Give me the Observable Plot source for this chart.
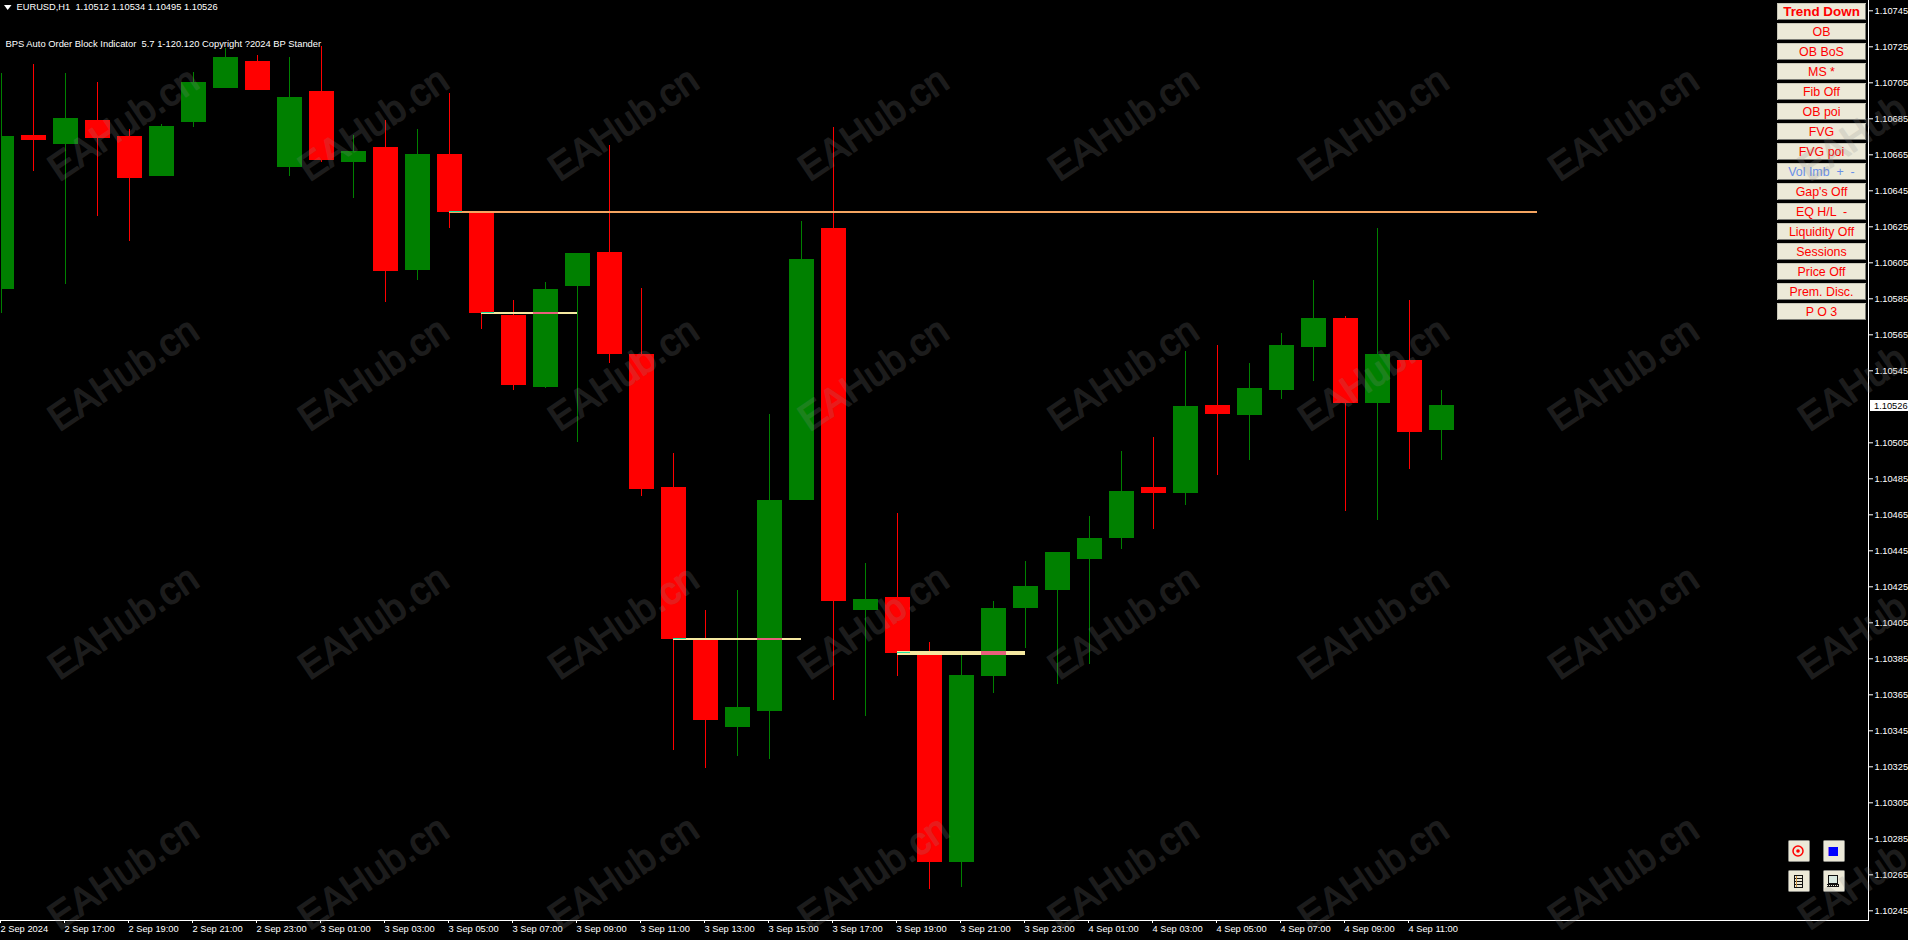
<!DOCTYPE html>
<html>
<head>
<meta charset="utf-8">
<title>EURUSD,H1</title>
<script src="https://cdn.jsdelivr.net/npm/d3@7"></script>
<script src="https://cdn.jsdelivr.net/npm/@observablehq/plot@0.6"></script>
<style>
html,body{margin:0;padding:0;background:#000;overflow:hidden}
svg text{white-space:pre}
</style>
</head>
<body>
<div id="chart"></div>
<script>
const opens = [1.10590,1.10676,1.10671,1.10684,1.10675,1.10653,1.10683,1.10702,1.10717,1.10658,1.10700,1.10661,1.10669,1.10601,1.10665,1.10633,1.10576,1.10536,1.10592,1.10611,1.10554,1.10480,1.10395,1.10347,1.10356,1.10473,1.10624,1.10412,1.10419,1.10387,1.10272,1.10375,1.10413,1.10423,1.10440,1.10452,1.10480,1.10477,1.10526,1.10520,1.10534,1.10558,1.10574,1.10527,1.10551,1.10512];
const highs = [1.10710,1.10715,1.10710,1.10705,1.10679,1.10682,1.10711,1.10724,1.10720,1.10719,1.10725,1.10676,1.10684,1.10679,1.10699,1.10633,1.10584,1.10594,1.10610,1.10670,1.10591,1.10499,1.10412,1.10423,1.10521,1.10628,1.10680,1.10438,1.10466,1.10394,1.10388,1.10417,1.10439,1.10444,1.10464,1.10500,1.10508,1.10556,1.10559,1.10549,1.10566,1.10595,1.10575,1.10624,1.10584,1.10534];
const lows = [1.10577,1.10656,1.10593,1.10631,1.10617,1.10653,1.10680,1.10702,1.10701,1.10653,1.10661,1.10641,1.10583,1.10595,1.10624,1.10568,1.10534,1.10535,1.10505,1.10549,1.10475,1.10334,1.10324,1.10331,1.10329,1.10473,1.10362,1.10353,1.10375,1.10257,1.10258,1.10366,1.10391,1.10371,1.10382,1.10446,1.10457,1.10470,1.10487,1.10495,1.10529,1.10539,1.10467,1.10462,1.10490,1.10495];
const closes = [1.10675,1.10673,1.10685,1.10674,1.10652,1.10681,1.10705,1.10719,1.10701,1.10697,1.10662,1.10667,1.10600,1.10665,1.10633,1.10577,1.10537,1.10590,1.10610,1.10554,1.10479,1.10396,1.10351,1.10358,1.10473,1.10607,1.10417,1.10418,1.10388,1.10272,1.10376,1.10413,1.10425,1.10444,1.10452,1.10478,1.10477,1.10525,1.10521,1.10535,1.10559,1.10574,1.10527,1.10554,1.10511,1.10526];

const priceTicks = [1.10745,1.10725,1.10705,1.10685,1.10665,1.10645,1.10625,1.10605,1.10585,1.10565,1.10545,1.10505,1.10485,1.10465,1.10445,1.10425,1.10405,1.10385,1.10365,1.10345,1.10325,1.10305,1.10285,1.10265,1.10245];
const timeTicks = [0,2,4,6,8,10,12,14,16,18,20,22,24,26,28,30,32,34,36,38,40,42,44];
const timeLabels = ["2 Sep 2024","2 Sep 17:00","2 Sep 19:00","2 Sep 21:00","2 Sep 23:00","3 Sep 01:00","3 Sep 03:00","3 Sep 05:00","3 Sep 07:00","3 Sep 09:00","3 Sep 11:00","3 Sep 13:00","3 Sep 15:00","3 Sep 17:00","3 Sep 19:00","3 Sep 21:00","3 Sep 23:00","4 Sep 01:00","4 Sep 03:00","4 Sep 05:00","4 Sep 07:00","4 Sep 09:00","4 Sep 11:00"];

const headerText = ["EURUSD,H1  1.10512 1.10534 1.10495 1.10526"];
const indicatorText = ["BPS Auto Order Block Indicator  5.7 1-120.120 Copyright ?2024 BP Stander"];
const currentPrice = 1.10526;

const levelPrices = [1.10633,1.10577,1.10396,1.10388];
const levelFrom = [14,15,21,28];
const levelTo = [48,18,25,32];
const levelColors = ["#f4a460","#f5e8a0","#f5e8a0","#f5e8a0"];
const levelWidths = [2,2,2,4];
const overlapBars = [null,17,24,31];

const buttonLabels = ["Trend Down","OB","OB BoS","MS *","Fib Off","OB poi","FVG","FVG poi","Vol Imb  +  -","Gap's Off","EQ H/L  -","Liquidity Off","Sessions","Price Off","Prem. Disc.","P O 3"];
const buttonColors = ["#ff0000","#ff0000","#ff0000","#ff0000","#ff0000","#ff0000","#ff0000","#ff0000","#6a8fe8","#ff0000","#ff0000","#ff0000","#ff0000","#ff0000","#ff0000","#ff0000"];

const wmBars = [3.81,11.63,19.44,27.25,35.06,42.88,50.69,58.5];
const wmPrices = [1.10682,1.10543,1.10405,1.10266];

const candles = opens.map((o,i)=>({i,open:o,high:highs[i],low:lows[i],close:closes[i]}));
const up = candles.filter(d=>d.close>=d.open);
const down = candles.filter(d=>d.close<d.open);
const levels = levelPrices.map((p,k)=>({p,from:levelFrom[k],to:levelTo[k],color:levelColors[k],w:levelWidths[k],over:overlapBars[k]}));
const halfBody = 12.5/32;
const watermarks = wmPrices.flatMap(p=>wmBars.map(b=>({p,b})));

function panel(index, scales){
  const g = d3.create("svg:g");
  // chart header triangle
  g.append("path").attr("d","M4 5H11.5L7.7 10Z").attr("fill","#fff");
  // current price tag
  const py = Math.round(scales.y(currentPrice));
  g.append("rect").attr("x",1870).attr("y",py-5).attr("width",38).attr("height",11).attr("fill","#fff");
  g.append("text").attr("x",1874).attr("y",py+3.5).attr("text-anchor","start").attr("fill","#000").attr("font-size","9.3px").text(currentPrice.toFixed(5));
  // indicator buttons
  buttonLabels.forEach((label,k)=>{
    const y = 3+20*k, h = 17, x = 1777, w = 89;
    g.append("rect").attr("x",x).attr("y",y).attr("width",w).attr("height",h).attr("fill","#ece9d8");
    g.append("path").attr("d",`M${x+.5} ${y+h-.5}V${y+.5}H${x+w-.5}`).attr("fill","none").attr("stroke","#c8c6b8").attr("shape-rendering","crispEdges");
    g.append("path").attr("d",`M${x+.5} ${y+h-.5}H${x+w-.5}V${y+.5}`).attr("fill","none").attr("stroke","#7c7c76").attr("shape-rendering","crispEdges");
    g.append("text").attr("x",x+w/2).attr("y",y+13).attr("text-anchor","middle")
      .attr("fill",buttonColors[k])
      .attr("font-size",k===0?"13.4px":"12.4px")
      .attr("font-weight",k===0?"bold":"normal")
      .text(label);
  });
  // small tool buttons
  [[1788,840],[1823,840],[1788,870],[1823,870]].forEach(([x,y])=>{
    g.append("rect").attr("x",x+.5).attr("y",y+.5).attr("width",21).attr("height",21).attr("rx",1)
      .attr("fill","#ece9d8").attr("stroke","#8a8a84");
  });
  g.append("circle").attr("cx",1798).attr("cy",851).attr("r",5).attr("fill","none").attr("stroke","#f00").attr("stroke-width",1.5);
  g.append("circle").attr("cx",1798).attr("cy",851).attr("r",1.8).attr("fill","#f00");
  g.append("rect").attr("x",1829).attr("y",847).attr("width",9).attr("height",9).attr("fill","#0000ff");
  g.append("rect").attr("x",1828).attr("y",847).attr("width",1).attr("height",9).attr("fill","#9a6ae0");
  // book icon
  g.append("rect").attr("x",1794.5).attr("y",875.5).attr("width",8).attr("height",12).attr("fill","#ece9d8").attr("stroke","#111");
  g.append("path").attr("d","M1794 878.5h9M1794 881.5h9M1794 884.5h9").attr("stroke","#111");
  g.append("path").attr("d","M1796.5 876v11").attr("stroke","#c89040");
  // laptop icon
  g.append("rect").attr("x",1828.5).attr("y",875.5).attr("width",9).attr("height",8).attr("fill","#d8e8e0").attr("stroke","#111");
  g.append("rect").attr("x",1827).attr("y",884).attr("width",12).attr("height",3).attr("fill","#111");
  g.append("path").attr("d","M1827 885.5h12").attr("stroke","#ece9d8").attr("stroke-dasharray","1 1");
  return g.node();
}

const crisp = {shapeRendering:"crispEdges"};
const bodyRule = (data,stroke)=>Plot.ruleX(data,{x:"i",y1:"open",y2:"close",stroke,strokeWidth:25,clip:"frame",...crisp});
const wickRule = (data,stroke)=>Plot.ruleX(data,{x:"i",y1:"low",y2:"high",stroke,strokeWidth:1,clip:"frame",...crisp});

const chart = Plot.plot({
  width:1908,height:940,
  marginLeft:1,marginRight:40,marginTop:0,marginBottom:20,
  style:{background:"#000",color:"#fff",fontFamily:"'Liberation Sans',Arial,sans-serif",fontSize:"9.3px"},
  x:{type:"linear",domain:[0,58.34375],range:[1,1868]},
  y:{type:"linear",domain:[1.10745,1.10245],range:[10.3,910.3]},
  marks:[
    wickRule(up,"#008000"),
    wickRule(down,"#ff0000"),
    bodyRule(up,"#008000"),
    bodyRule(down,"#ff0000"),
    Plot.ruleY(levels,{y:"p",x1:"from",x2:"to",stroke:"color",strokeWidth:"w",...crisp}),
    Plot.ruleY(levels.filter(d=>d.over!==null),{y:"p",x1:d=>d.over-halfBody,x2:d=>d.over+halfBody,stroke:"#e8607c",strokeWidth:"w",...crisp}),
    Plot.ruleY(levels,{y:"p",x1:"from",x2:d=>d.from+halfBody,stroke:"#20e0a0",strokeWidth:1,dy:-1,...crisp}),
    Plot.frame({anchor:"right",stroke:"#fff"}),
    Plot.frame({anchor:"bottom",stroke:"#fff"}),
    Plot.axisY({anchor:"right",ticks:priceTicks,tickFormat:d=>d.toFixed(5),tickSize:4,tickPadding:2,label:null,stroke:"#fff",fill:"#fff"}),
    Plot.axisX({anchor:"bottom",ticks:timeTicks,tickFormat:i=>timeLabels[timeTicks.indexOf(i)],tickSize:3,tickPadding:2,label:null,textAnchor:"start",dx:-1,stroke:"#fff",fill:"#fff"}),
    Plot.text(headerText,{text:d=>d,frameAnchor:"top-left",dx:15,dy:3,textAnchor:"start",lineAnchor:"top",fill:"#fff"}),
    Plot.text(indicatorText,{text:d=>d,frameAnchor:"top-left",dx:4,dy:40,textAnchor:"start",lineAnchor:"top",fontSize:9.4,fill:"#fff"}),
    panel,
    Plot.text(watermarks,{x:"b",y:"p",text:()=>"EAHub.cn",rotate:-34,textAnchor:"middle",lineAnchor:"middle",fontSize:38,fill:"#8c8c8c",stroke:"#8c8c8c",strokeWidth:1.5,opacity:0.2})
  ]
});
document.getElementById("chart").appendChild(chart);
</script>
</body>
</html>
